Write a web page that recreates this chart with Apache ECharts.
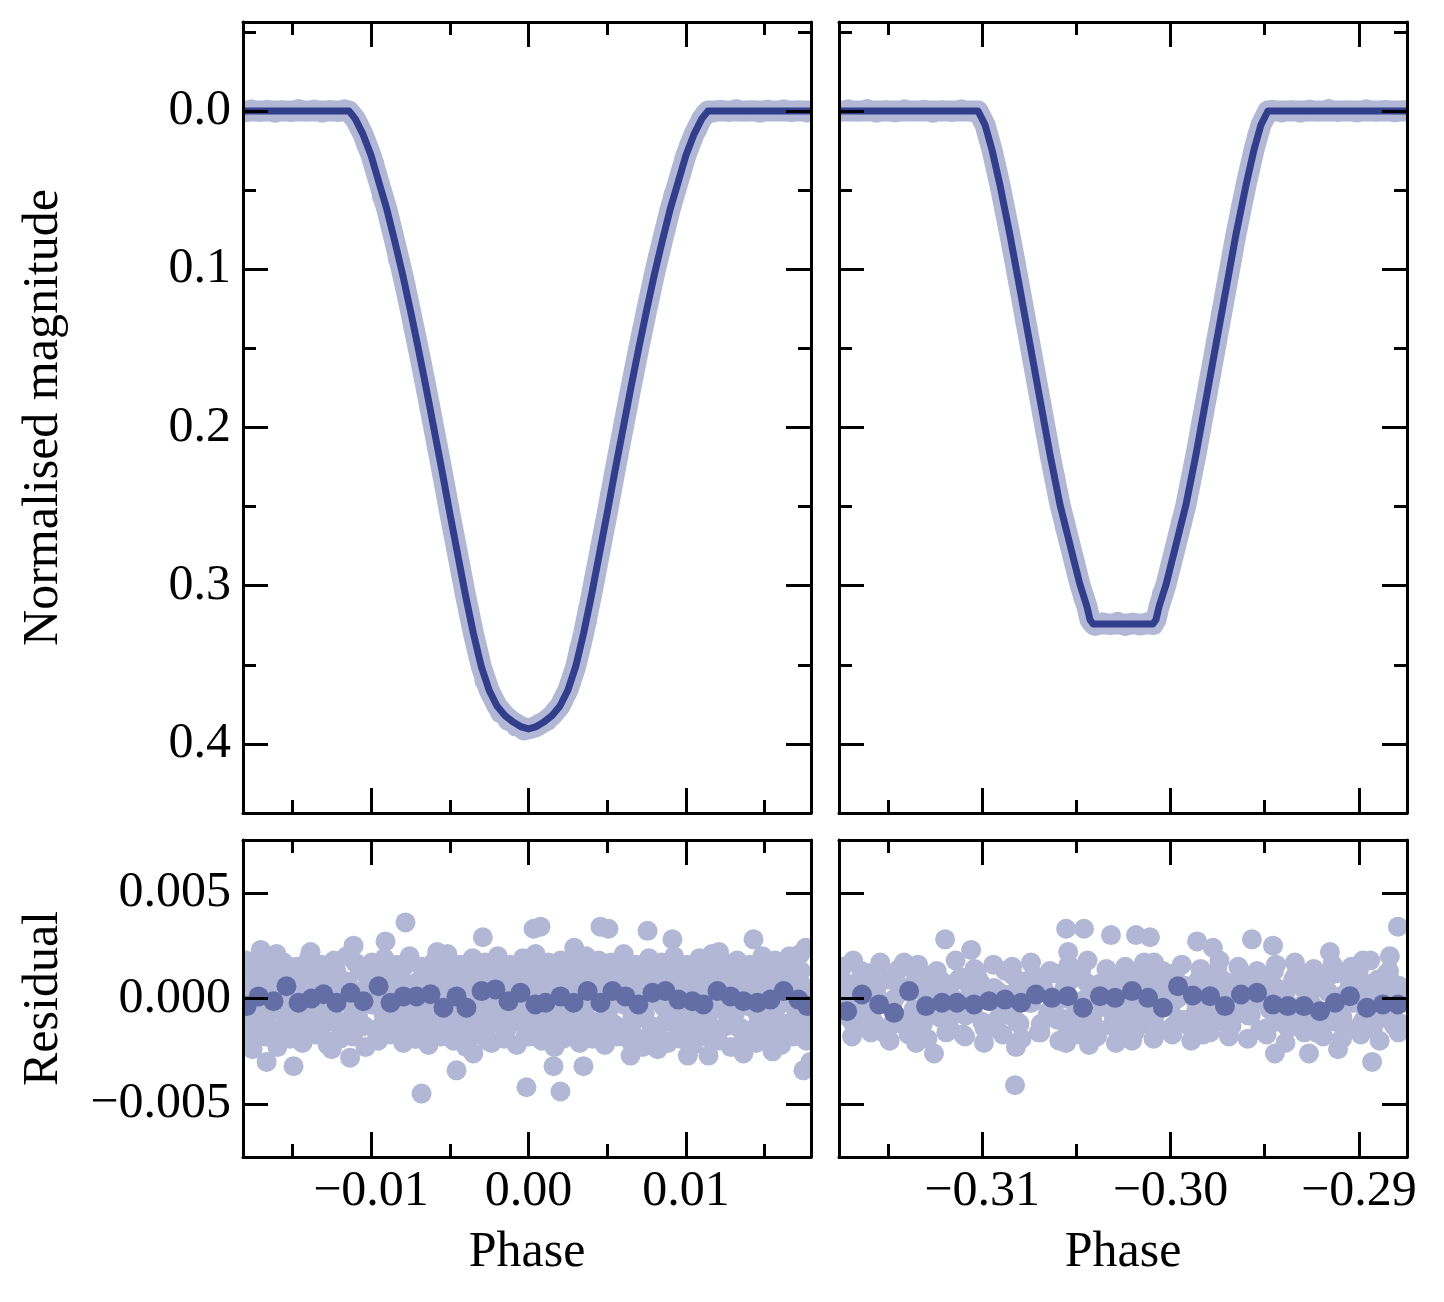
<!DOCTYPE html>
<html>
<head>
<meta charset="utf-8">
<script src="https://cdn.jsdelivr.net/npm/echarts@6/dist/echarts.min.js"></script>
<style>html,body{margin:0;padding:0;background:#fff}#c{width:1444px;height:1302px}</style>
</head>
<body>
<div id="c"></div>
<script>
// ---------------- data ----------------
const modelPrimary = [[-0.0182,0],[-0.0114,0],[-0.0110,0.005],[-0.0105,0.015],[-0.0100,0.028],[-0.0095,0.045],[-0.0090,0.062],[-0.0085,0.082],[-0.0080,0.103],[-0.0075,0.126],[-0.0070,0.150],[-0.0065,0.175],[-0.0060,0.201],[-0.0055,0.227],[-0.0050,0.254],[-0.0045,0.280],[-0.0040,0.306],[-0.0035,0.330],[-0.0030,0.351],[-0.0025,0.366],[-0.0020,0.376],[-0.0015,0.382],[-0.0010,0.386],[-0.0005,0.389],[0,0.3905],[0.0005,0.389],[0.0010,0.386],[0.0015,0.382],[0.0020,0.376],[0.0025,0.366],[0.0030,0.351],[0.0035,0.330],[0.0040,0.306],[0.0045,0.280],[0.0050,0.254],[0.0055,0.227],[0.0060,0.201],[0.0065,0.175],[0.0070,0.150],[0.0075,0.126],[0.0080,0.103],[0.0085,0.082],[0.0090,0.062],[0.0095,0.045],[0.0100,0.028],[0.0105,0.015],[0.0110,0.005],[0.0114,0],[0.0182,0]];

const modelSecondary = [[-0.3180,0],[-0.31021,0],[-0.30984,0.0088],[-0.30947,0.0246],[-0.30905,0.0467],[-0.30852,0.0783],[-0.30798,0.1131],[-0.30745,0.1478],[-0.30692,0.1826],[-0.30639,0.2173],[-0.30586,0.2489],[-0.30533,0.2742],[-0.30480,0.2994],[-0.30443,0.3133],[-0.30427,0.3215],[-0.30411,0.3241],[-0.30093,0.3241],[-0.30077,0.3215],[-0.30061,0.3133],[-0.30024,0.2994],[-0.29971,0.2742],[-0.29918,0.2489],[-0.29865,0.2173],[-0.29812,0.1826],[-0.29759,0.1478],[-0.29706,0.1131],[-0.29653,0.0783],[-0.29599,0.0467],[-0.29557,0.0246],[-0.29520,0.0088],[-0.29483,0],[-0.2870,0]];

const obsPrimary = [[-0.0180,0.0009],[-0.0176,-0.0011],[-0.0171,0.0005],[-0.0166,-0.0008],[-0.0161,0.0012],[-0.0156,-0.0004],[-0.0151,0.0008],[-0.0146,-0.0012],[-0.0141,0.0003],[-0.0136,-0.0009],[-0.0131,0.0011],[-0.0126,-0.0006],[-0.0121,0.0007],[-0.0117,-0.0010],
[-0.0112,0.0035],[-0.0108,0.0080],[-0.0103,0.0215],[-0.0098,0.0330],[-0.0093,0.0545],[-0.0088,0.0690],[-0.0083,0.0935],[-0.0078,0.1105],[-0.0073,0.1370],[-0.0068,0.1595],[-0.0063,0.1870],[-0.0058,0.2120],[-0.0053,0.2370],[-0.0048,0.2655],[-0.0043,0.2895],[-0.0038,0.3175],[-0.0033,0.3380],[-0.0028,0.3600],[-0.0023,0.3700],[-0.0018,0.3805],[-0.0013,0.3855],[-0.0008,0.3890],[-0.0003,0.3915],[0.0002,0.3895],
[0.0007,0.3870],[0.0012,0.3855],[0.0017,0.3790],[0.0022,0.3725],[0.0027,0.3610],[0.0032,0.3405],[0.0037,0.3230],[0.0042,0.2940],[0.0047,0.2710],[0.0052,0.2420],[0.0057,0.2185],[0.0062,0.1895],[0.0067,0.1660],[0.0072,0.1390],[0.0077,0.1180],[0.0082,0.0925],[0.0087,0.0755],[0.0092,0.0530],[0.0097,0.0395],[0.0102,0.0215],[0.0107,0.0120],[0.0112,0.0015],
[0.0117,0.0010],[0.0122,-0.0007],[0.0127,0.0006],[0.0132,-0.0012],[0.0137,0.0004],[0.0142,-0.0005],[0.0147,0.0011],[0.0152,-0.0009],[0.0157,0.0002],[0.0162,-0.0011],[0.0167,0.0008],[0.0172,-0.0004],[0.0177,0.0010],[0.0181,-0.0008]];

const obsSecondary = [[-0.3176,0.0008],[-0.3171,-0.0010],[-0.3166,0.0004],[-0.3161,-0.0012],[-0.3156,0.0011],[-0.3151,-0.0005],[-0.3146,0.0009],[-0.3141,-0.0011],[-0.3136,0.0002],[-0.3131,-0.0008],[-0.3126,0.0012],[-0.3121,-0.0004],[-0.3116,0.0007],[-0.3111,-0.0010],[-0.3106,0.0005],
[-0.31002,0.0040],[-0.30965,0.0180],[-0.30926,0.0345],[-0.30878,0.0630],[-0.30825,0.0945],[-0.30771,0.1320],[-0.30718,0.1640],[-0.30665,0.2010],[-0.30612,0.2320],[-0.30560,0.2630],[-0.30506,0.2860],[-0.30462,0.3080],[-0.30430,0.3200],
[-0.30400,0.3255],[-0.30360,0.3230],[-0.30320,0.3250],[-0.30280,0.3228],[-0.30240,0.3256],[-0.30200,0.3232],[-0.30160,0.3252],[-0.30120,0.3229],[-0.30090,0.3250],
[-0.30070,0.3175],[-0.30045,0.3050],[-0.29998,0.2880],[-0.29945,0.2600],[-0.29892,0.2340],[-0.29839,0.1985],[-0.29786,0.1660],[-0.29733,0.1290],[-0.29680,0.0970],[-0.29627,0.0610],[-0.29578,0.0370],[-0.29540,0.0155],[-0.29500,0.0045],
[-0.2946,-0.0008],[-0.2941,0.0010],[-0.2936,-0.0005],[-0.2931,0.0011],[-0.2926,-0.0009],[-0.2921,0.0004],[-0.2916,-0.0012],[-0.2911,0.0007],[-0.2906,-0.0003],[-0.2901,0.0010],[-0.2896,-0.0010],[-0.2891,0.0005],[-0.2886,-0.0007],[-0.2881,0.0009],[-0.2876,-0.0004]];

const residPrimary = [[-0.01800,0.0012],[-0.01781,-0.0009],[-0.01759,0.0004],[-0.01742,-0.0016],[-0.01719,0.0008],[-0.01701,-0.0003],[-0.01682,0.0015],[-0.01660,-0.0012],[-0.01641,0.0001],[-0.01620,-0.0019],
[-0.01601,0.0010],[-0.01579,-0.0006],[-0.01562,0.0016],[-0.01540,-0.0013],[-0.01521,0.0005],[-0.01499,-0.0009],[-0.01482,0.0011],[-0.01460,-0.0017],[-0.01441,0.0002],[-0.01419,-0.0005],
[-0.01400,0.0014],[-0.01382,-0.0010],[-0.01361,0.0006],[-0.01339,-0.0014],[-0.01322,-0.0001],[-0.01300,0.0010],[-0.01281,-0.0020],[-0.01259,0.0008],[-0.01242,-0.0007],[-0.01220,0.0013],
[-0.01201,-0.0012],[-0.01179,0.0001],[-0.01162,-0.0016],[-0.01140,0.0005],[-0.01121,-0.0004],[-0.01100,0.0017],[-0.01081,-0.0009],[-0.01060,0.0003],[-0.01041,-0.0013],[-0.01019,0.0009],
[-0.01000,-0.0002],[-0.00981,0.0012],[-0.00960,-0.0018],[-0.00941,0.0006],[-0.00919,-0.0008],[-0.00900,0.0014],[-0.00882,-0.0011],[-0.00861,0.0000],[-0.00839,-0.0015],[-0.00822,0.0010],
[-0.00800,-0.0006],[-0.00779,0.0016],[-0.00762,-0.0012],[-0.00740,0.0004],[-0.00719,-0.0019],[-0.00701,0.0008],[-0.00682,-0.0003],[-0.00660,0.0013],[-0.00641,-0.0010],[-0.00620,0.0002],
[-0.00601,-0.0016],[-0.00580,0.0011],[-0.00561,-0.0005],[-0.00540,0.0015],[-0.00522,-0.0013],[-0.00500,0.0006],[-0.00481,-0.0008],[-0.00459,0.0012],[-0.00441,-0.0017],[-0.00420,0.0003],
[-0.00401,-0.0004],[-0.00379,0.0014],[-0.00362,-0.0011],[-0.00340,0.0007],[-0.00321,-0.0014],[-0.00300,0.0001],[-0.00281,0.0010],[-0.00259,-0.0020],[-0.00241,0.0008],[-0.00220,-0.0007],
[-0.00200,0.0016],[-0.00181,-0.0012],[-0.00160,0.0002],[-0.00141,-0.0015],[-0.00119,0.0009],[-0.00100,-0.0003],[-0.00082,0.0013],[-0.00060,-0.0009],[-0.00041,0.0005],[-0.00019,-0.0018],
[0.00000,0.0011],[0.00019,-0.0006],[0.00041,0.0015],[0.00060,-0.0012],[0.00079,0.0003],[0.00101,-0.0016],[0.00120,0.0010],[0.00139,-0.0004],[0.00161,0.0014],[0.00180,-0.0010],
[0.00199,0.0006],[0.00221,-0.0019],[0.00240,0.0009],[0.00259,-0.0007],[0.00281,0.0012],[0.00300,-0.0013],[0.00319,0.0001],[0.00341,-0.0015],[0.00360,0.0007],[0.00379,-0.0002],
[0.00401,0.0016],[0.00420,-0.0011],[0.00439,0.0004],[0.00461,-0.0017],[0.00480,0.0010],[0.00499,-0.0005],[0.00521,0.0013],[0.00540,-0.0012],[0.00559,0.0002],[0.00581,-0.0014],
[0.00600,0.0008],[0.00619,-0.0003],[0.00641,0.0015],[0.00660,-0.0009],[0.00679,0.0005],[0.00701,-0.0019],[0.00720,0.0011],[0.00739,-0.0007],[0.00761,0.0012],[0.00780,-0.0013],
[0.00799,0.0000],[0.00821,-0.0016],[0.00840,0.0009],[0.00859,-0.0004],[0.00881,0.0014],[0.00900,-0.0010],[0.00919,0.0006],[0.00941,-0.0018],[0.00960,0.0008],[0.00979,-0.0006],
[0.01001,0.0013],[0.01020,-0.0012],[0.01039,0.0003],[0.01061,-0.0015],[0.01080,0.0010],[0.01099,-0.0002],[0.01121,0.0016],[0.01140,-0.0011],[0.01159,0.0004],[0.01181,-0.0017],
[0.01200,0.0009],[0.01219,-0.0005],[0.01241,0.0012],[0.01260,-0.0013],[0.01279,0.0002],[0.01301,-0.0009],[0.01320,0.0015],[0.01339,-0.0014],[0.01361,0.0006],[0.01380,-0.0003],
[0.01399,0.0011],[0.01421,-0.0019],[0.01440,0.0007],[0.01459,-0.0008],[0.01481,0.0013],[0.01500,-0.0011],[0.01519,0.0001],[0.01541,-0.0015],[0.01560,0.0010],[0.01579,-0.0004],
[0.01601,0.0014],[0.01620,-0.0012],[0.01639,0.0005],[0.01661,-0.0017],[0.01680,0.0009],[0.01699,-0.0006],[0.01721,0.0012],[0.01740,-0.0010],[0.01759,0.0003],[0.01781,-0.0016],
[-0.00781,0.0036],[-0.00290,0.0029],[-0.00908,0.0027],[-0.01111,0.0025],[-0.01384,0.0022],[0.00032,0.0033],[-0.00679,-0.0045],[-0.01492,-0.0032],[-0.01663,-0.0030],[-0.00457,-0.0034],
[-0.00013,-0.0042],[-0.01133,-0.0028],[-0.01752,-0.0024],[0.00508,0.0033],[0.00756,0.0032],[0.01429,0.0028],[0.00076,0.0034],[0.00203,-0.0044],[0.00349,-0.0032],[0.00159,-0.0032],
[0.01012,-0.0027],[0.01143,-0.0027],[0.01365,-0.0026],[0.01746,-0.0034],[0.00648,-0.0027],[0.00457,0.0034],[0.00914,0.0028],[0.01657,0.0020],[-0.01600,0.0021],[-0.01250,-0.0024],
[-0.00580,0.0022],[-0.00350,-0.0026],[0.00290,0.0024],[0.00820,-0.0024],[0.01210,0.0022],[0.01550,-0.0025],[0.01760,0.0024],[-0.01700,0.0023],[0.01790,-0.0030]];

const residPrimaryB = [[-0.01790,-0.0004],[-0.01771,0.0009],[-0.01750,-0.0013],[-0.01729,0.0002],[-0.01710,-0.0007],[-0.01691,0.0013],[-0.01670,-0.0010],[-0.01649,0.0005],[-0.01630,-0.0002],[-0.01611,0.0011],[-0.01590,-0.0015],[-0.01569,0.0000],[-0.01550,0.0007],[-0.01531,-0.0011],[-0.01510,0.0003],[-0.01489,-0.0006],[-0.01470,0.0012],[-0.01451,-0.0014],[-0.01430,0.0006],[-0.01409,-0.0001],
[-0.01390,-0.0005],[-0.01371,0.0010],[-0.01350,-0.0012],[-0.01329,0.0001],[-0.01310,-0.0008],[-0.01291,0.0012],[-0.01270,-0.0011],[-0.01249,0.0004],[-0.01230,-0.0003],[-0.01211,0.0010],[-0.01190,-0.0016],[-0.01169,0.0001],[-0.01150,0.0008],[-0.01131,-0.0010],[-0.01110,0.0002],[-0.01089,-0.0007],[-0.01070,0.0013],[-0.01051,-0.0013],[-0.01030,0.0005],[-0.01009,-0.0002],
[-0.00990,-0.0003],[-0.00971,0.0008],[-0.00950,-0.0014],[-0.00929,0.0003],[-0.00910,-0.0006],[-0.00891,0.0014],[-0.00870,-0.0009],[-0.00849,0.0006],[-0.00830,-0.0001],[-0.00811,0.0012],[-0.00790,-0.0014],[-0.00769,-0.0001],[-0.00750,0.0006],[-0.00731,-0.0012],[-0.00710,0.0004],[-0.00689,-0.0005],[-0.00670,0.0011],[-0.00651,-0.0015],[-0.00630,0.0007],[-0.00609,0.0000],
[-0.00590,-0.0006],[-0.00571,0.0009],[-0.00550,-0.0012],[-0.00529,0.0002],[-0.00510,-0.0008],[-0.00491,0.0013],[-0.00470,-0.0010],[-0.00449,0.0004],[-0.00430,-0.0003],[-0.00411,0.0011],[-0.00390,-0.0016],[-0.00369,0.0000],[-0.00350,0.0008],[-0.00331,-0.0011],[-0.00310,0.0002],[-0.00289,-0.0006],[-0.00270,0.0012],[-0.00251,-0.0013],[-0.00230,0.0005],[-0.00209,-0.0002],
[-0.00190,-0.0004],[-0.00171,0.0010],[-0.00150,-0.0013],[-0.00129,0.0001],[-0.00110,-0.0007],[-0.00091,0.0012],[-0.00070,-0.0011],[-0.00049,0.0006],[-0.00030,-0.0002],[-0.00011,0.0010],[0.00010,-0.0015],[0.00031,0.0001],[0.00050,0.0007],[0.00069,-0.0010],[0.00090,0.0003],[0.00111,-0.0007],[0.00130,0.0013],[0.00149,-0.0014],[0.00170,0.0006],[0.00191,-0.0001],
[0.00210,-0.0005],[0.00229,0.0008],[0.00250,-0.0012],[0.00271,0.0003],[0.00290,-0.0006],[0.00309,0.0014],[0.00330,-0.0010],[0.00351,0.0005],[0.00370,-0.0003],[0.00389,0.0011],[0.00410,-0.0014],[0.00431,0.0000],[0.00450,0.0006],[0.00469,-0.0012],[0.00490,0.0004],[0.00511,-0.0005],[0.00530,0.0012],[0.00549,-0.0015],[0.00570,0.0007],[0.00591,-0.0002],
[0.00610,-0.0003],[0.00629,0.0009],[0.00650,-0.0014],[0.00671,0.0002],[0.00690,-0.0008],[0.00709,0.0012],[0.00730,-0.0009],[0.00751,0.0004],[0.00770,-0.0001],[0.00789,0.0010],[0.00810,-0.0016],[0.00831,0.0001],[0.00850,0.0008],[0.00869,-0.0011],[0.00890,0.0003],[0.00911,-0.0006],[0.00930,0.0011],[0.00949,-0.0013],[0.00970,0.0005],[0.00991,0.0000],
[0.01010,-0.0006],[0.01029,0.0010],[0.01050,-0.0012],[0.01071,0.0001],[0.01090,-0.0007],[0.01109,0.0013],[0.01130,-0.0011],[0.01151,0.0005],[0.01170,-0.0002],[0.01189,0.0012],[0.01210,-0.0015],[0.01231,-0.0001],[0.01250,0.0007],[0.01269,-0.0010],[0.01290,0.0002],[0.01311,-0.0007],[0.01330,0.0012],[0.01349,-0.0014],[0.01370,0.0006],[0.01391,-0.0001],
[0.01410,-0.0004],[0.01429,0.0009],[0.01450,-0.0013],[0.01471,0.0003],[0.01490,-0.0006],[0.01509,0.0013],[0.01530,-0.0010],[0.01551,0.0006],[0.01570,-0.0003],[0.01589,0.0011],[0.01610,-0.0015],[0.01631,0.0000],[0.01650,0.0006],[0.01669,-0.0012],[0.01690,0.0004],[0.01711,-0.0005],[0.01730,0.0013],[0.01749,-0.0013],[0.01770,0.0005],[0.01791,-0.0002]];

const residPrimaryC = [[-0.01795,0.0018],[-0.01755,-0.0021],[-0.01715,0.0016],[-0.01675,-0.0018],[-0.01635,0.0020],[-0.01595,-0.0023],[-0.01555,0.0017],[-0.01515,-0.0019],[-0.01475,0.0015],[-0.01435,-0.0021],
[-0.01395,0.0019],[-0.01355,-0.0017],[-0.01315,0.0016],[-0.01275,-0.0022],[-0.01235,0.0018],[-0.01195,-0.0019],[-0.01155,0.0020],[-0.01115,-0.0018],[-0.01075,0.0015],[-0.01035,-0.0023],
[-0.00995,0.0017],[-0.00955,-0.0020],[-0.00915,0.0019],[-0.00875,-0.0017],[-0.00835,0.0016],[-0.00795,-0.0021],[-0.00755,0.0020],[-0.00715,-0.0019],[-0.00675,0.0015],[-0.00635,-0.0022],
[-0.00595,0.0018],[-0.00555,-0.0018],[-0.00515,0.0021],[-0.00475,-0.0020],[-0.00435,0.0016],[-0.00395,-0.0023],[-0.00355,0.0019],[-0.00315,-0.0017],[-0.00275,0.0017],[-0.00235,-0.0021],
[-0.00195,0.0020],[-0.00155,-0.0019],[-0.00115,0.0016],[-0.00075,-0.0022],[-0.00035,0.0019],[0.00005,-0.0018],[0.00045,0.0021],[0.00085,-0.0020],[0.00125,0.0017],[0.00165,-0.0023],
[0.00205,0.0018],[0.00245,-0.0017],[0.00285,0.0016],[0.00325,-0.0021],[0.00365,0.0020],[0.00405,-0.0019],[0.00445,0.0018],[0.00485,-0.0022],[0.00525,0.0017],[0.00565,-0.0018],
[0.00605,0.0021],[0.00645,-0.0020],[0.00685,0.0016],[0.00725,-0.0023],[0.00765,0.0019],[0.00805,-0.0017],[0.00845,0.0017],[0.00885,-0.0021],[0.00925,0.0020],[0.00965,-0.0019],
[0.01005,0.0016],[0.01045,-0.0022],[0.01085,0.0019],[0.01125,-0.0018],[0.01165,0.0021],[0.01205,-0.0020],[0.01245,0.0017],[0.01285,-0.0023],[0.01325,0.0018],[0.01365,-0.0017],
[0.01405,0.0016],[0.01445,-0.0021],[0.01485,0.0020],[0.01525,-0.0019],[0.01565,0.0018],[0.01605,-0.0022],[0.01645,0.0017],[0.01685,-0.0018],[0.01725,0.0021],[0.01765,-0.0020]];

const residSecondary = [[-0.31750,0.0010],[-0.31724,-0.0008],[-0.31701,0.0003],[-0.31674,-0.0014],[-0.31650,0.0007],[-0.31626,-0.0003],[-0.31599,0.0012],[-0.31575,-0.0011],[-0.31551,0.0000],[-0.31524,-0.0016],
[-0.31500,0.0009],[-0.31476,-0.0005],[-0.31449,0.0013],[-0.31425,-0.0012],[-0.31401,0.0004],[-0.31374,-0.0008],[-0.31350,0.0010],[-0.31326,-0.0015],[-0.31299,0.0002],[-0.31275,-0.0004],
[-0.31251,0.0012],[-0.31224,-0.0009],[-0.31200,0.0005],[-0.31176,-0.0013],[-0.31149,-0.0001],[-0.31125,0.0009],[-0.31101,-0.0017],[-0.31074,0.0007],[-0.31050,-0.0006],[-0.31026,0.0011],
[-0.30999,-0.0011],[-0.30975,0.0001],[-0.30951,-0.0014],[-0.30924,0.0004],[-0.30900,-0.0003],[-0.30876,0.0013],[-0.30849,-0.0008],[-0.30825,0.0003],[-0.30801,-0.0012],[-0.30774,0.0008],
[-0.30750,-0.0002],[-0.30726,0.0011],[-0.30699,-0.0016],[-0.30675,0.0005],[-0.30651,-0.0007],[-0.30624,0.0012],[-0.30600,-0.0010],[-0.30576,0.0000],[-0.30549,-0.0013],[-0.30525,0.0009],
[-0.30501,-0.0005],[-0.30474,0.0013],[-0.30450,-0.0011],[-0.30426,0.0003],[-0.30399,-0.0016],[-0.30375,0.0007],[-0.30351,-0.0003],[-0.30324,0.0011],[-0.30300,-0.0009],[-0.30276,0.0002],
[-0.30249,-0.0014],[-0.30225,0.0010],[-0.30201,-0.0004],[-0.30174,0.0012],[-0.30150,-0.0012],[-0.30126,0.0005],[-0.30099,-0.0007],[-0.30075,0.0010],[-0.30051,-0.0015],[-0.30024,0.0003],
[-0.30000,-0.0004],[-0.29976,0.0012],[-0.29949,-0.0010],[-0.29925,0.0006],[-0.29901,-0.0013],[-0.29874,0.0001],[-0.29850,0.0009],[-0.29826,-0.0017],[-0.29799,0.0007],[-0.29775,-0.0006],
[-0.29751,0.0013],[-0.29724,-0.0011],[-0.29700,0.0002],[-0.29676,-0.0013],[-0.29649,0.0008],[-0.29625,-0.0003],[-0.29601,0.0011],[-0.29574,-0.0008],[-0.29550,0.0004],[-0.29526,-0.0015],
[-0.29499,0.0010],[-0.29475,-0.0005],[-0.29451,0.0013],[-0.29424,-0.0011],[-0.29400,0.0003],[-0.29376,-0.0014],[-0.29349,0.0009],[-0.29325,-0.0004],[-0.29301,0.0012],[-0.29274,-0.0009],
[-0.29250,0.0005],[-0.29226,-0.0016],[-0.29199,0.0008],[-0.29175,-0.0006],[-0.29151,0.0011],[-0.29124,-0.0011],[-0.29100,0.0001],[-0.29076,-0.0013],[-0.29049,0.0006],[-0.29025,-0.0002],
[-0.29001,0.0013],[-0.28974,-0.0010],[-0.28950,0.0004],[-0.28926,-0.0014],[-0.28899,0.0009],[-0.28875,-0.0004],[-0.28851,0.0012],[-0.28824,-0.0011],[-0.28800,0.0003],[-0.28776,-0.0012],
[-0.31196,0.0028],[-0.31684,0.0018],[-0.31058,0.0023],[-0.31414,0.0017],[-0.30554,0.0033],[-0.30459,0.0033],[-0.30316,0.0030],[-0.30543,0.0022],[-0.30183,0.0030],[-0.30825,-0.0041],
[-0.31255,-0.0026],[-0.31350,-0.0021],[-0.30820,-0.0023],[-0.30554,-0.0021],[-0.30432,-0.0022],[-0.30204,-0.0020],[-0.28793,0.0034],[-0.29859,0.0027],[-0.29775,0.0024],[-0.29568,0.0028],
[-0.29456,0.0025],[-0.29154,0.0022],[-0.28979,0.0018],[-0.28836,0.0020],[-0.28930,-0.0030],[-0.29265,-0.0026],[-0.29446,-0.0026],[-0.29111,-0.0024],[-0.30087,0.0017],[-0.30109,0.0029]];

const residSecondaryB = [[-0.31738,-0.0003],[-0.31712,0.0007],[-0.31688,-0.0011],[-0.31663,0.0002],[-0.31637,-0.0006],[-0.31613,0.0011],[-0.31588,-0.0009],[-0.31562,0.0004],[-0.31538,-0.0001],[-0.31513,0.0009],[-0.31487,-0.0013],[-0.31463,0.0000],[-0.31438,0.0006],[-0.31412,-0.0010],[-0.31388,0.0003],[-0.31363,-0.0005],[-0.31337,0.0010],[-0.31313,-0.0012],[-0.31288,0.0005],[-0.31262,-0.0002],
[-0.31238,-0.0004],[-0.31212,0.0008],[-0.31188,-0.0010],[-0.31163,0.0001],[-0.31137,-0.0007],[-0.31113,0.0010],[-0.31088,-0.0008],[-0.31062,0.0003],[-0.31038,-0.0002],[-0.31013,0.0008],[-0.30987,-0.0014],[-0.30963,0.0001],[-0.30938,0.0005],[-0.30912,-0.0009],[-0.30888,0.0002],[-0.30863,-0.0006],[-0.30837,0.0011],[-0.30813,-0.0011],[-0.30788,0.0004],[-0.30762,-0.0001],
[-0.30738,-0.0002],[-0.30712,0.0006],[-0.30688,-0.0012],[-0.30663,0.0003],[-0.30637,-0.0005],[-0.30613,0.0012],[-0.30588,-0.0009],[-0.30562,0.0005],[-0.30538,0.0000],[-0.30513,0.0010],[-0.30487,-0.0012],[-0.30463,-0.0001],[-0.30438,0.0007],[-0.30412,-0.0011],[-0.30388,0.0004],[-0.30363,-0.0004],[-0.30337,0.0009],[-0.30313,-0.0013],[-0.30288,0.0006],[-0.30262,-0.0003],
[-0.30238,-0.0005],[-0.30212,0.0007],[-0.30188,-0.0010],[-0.30163,0.0002],[-0.30137,-0.0006],[-0.30113,0.0011],[-0.30088,-0.0010],[-0.30062,0.0004],[-0.30038,-0.0002],[-0.30013,0.0009],[-0.29987,-0.0013],[-0.29963,0.0000],[-0.29938,0.0006],[-0.29912,-0.0010],[-0.29888,0.0001],[-0.29863,-0.0005],[-0.29837,0.0010],[-0.29813,-0.0012],[-0.29788,0.0005],[-0.29762,-0.0002],
[-0.29738,-0.0003],[-0.29712,0.0008],[-0.29688,-0.0011],[-0.29663,0.0001],[-0.29637,-0.0007],[-0.29613,0.0010],[-0.29588,-0.0008],[-0.29562,0.0005],[-0.29538,-0.0001],[-0.29513,0.0008],[-0.29487,-0.0014],[-0.29463,0.0001],[-0.29438,0.0005],[-0.29412,-0.0009],[-0.29388,0.0003],[-0.29363,-0.0006],[-0.29337,0.0011],[-0.29313,-0.0011],[-0.29288,0.0004],[-0.29262,0.0000],
[-0.29238,-0.0004],[-0.29212,0.0006],[-0.29188,-0.0012],[-0.29163,0.0003],[-0.29137,-0.0005],[-0.29113,0.0012],[-0.29088,-0.0009],[-0.29062,0.0003],[-0.29038,-0.0002],[-0.29013,0.0010],[-0.28987,-0.0012],[-0.28963,-0.0001],[-0.28938,0.0007],[-0.28912,-0.0011],[-0.28888,0.0002],[-0.28863,-0.0004],[-0.28837,0.0009],[-0.28813,-0.0013],[-0.28788,0.0006],[-0.28762,-0.0002]];

const residSecondaryC = [[-0.31740,0.0015],[-0.31690,-0.0018],[-0.31640,0.0013],[-0.31590,-0.0016],[-0.31540,0.0017],[-0.31490,-0.0020],[-0.31440,0.0014],[-0.31390,-0.0017],[-0.31340,0.0016],[-0.31290,-0.0019],
[-0.31240,0.0013],[-0.31190,-0.0016],[-0.31140,0.0018],[-0.31090,-0.0018],[-0.31040,0.0014],[-0.30990,-0.0021],[-0.30940,0.0016],[-0.30890,-0.0017],[-0.30840,0.0015],[-0.30790,-0.0019],
[-0.30740,0.0017],[-0.30690,-0.0016],[-0.30640,0.0013],[-0.30590,-0.0020],[-0.30540,0.0016],[-0.30490,-0.0017],[-0.30440,0.0018],[-0.30390,-0.0018],[-0.30340,0.0014],[-0.30290,-0.0021],
[-0.30240,0.0015],[-0.30190,-0.0016],[-0.30140,0.0017],[-0.30090,-0.0019],[-0.30040,0.0013],[-0.29990,-0.0017],[-0.29940,0.0016],[-0.29890,-0.0020],[-0.29840,0.0014],[-0.29790,-0.0016],
[-0.29740,0.0018],[-0.29690,-0.0018],[-0.29640,0.0015],[-0.29590,-0.0019],[-0.29540,0.0013],[-0.29490,-0.0017],[-0.29440,0.0016],[-0.29390,-0.0021],[-0.29340,0.0017],[-0.29290,-0.0016],
[-0.29240,0.0014],[-0.29190,-0.0018],[-0.29140,0.0016],[-0.29090,-0.0019],[-0.29040,0.0015],[-0.28990,-0.0017],[-0.28940,0.0018],[-0.28890,-0.0020],[-0.28840,0.0013],[-0.28790,-0.0016]];

const binnedPrimary = [[-0.01790,-0.00036],[-0.01714,0.00010],[-0.01619,-0.00013],[-0.01537,0.00058],[-0.01460,-0.00020],[-0.01378,0.00000],[-0.01302,0.00020],[-0.01219,-0.00020],[-0.01130,0.00027],[-0.01048,-0.00013],[-0.00952,0.00058],[-0.00876,-0.00020],[-0.00794,0.00010],[-0.00711,0.00010],[-0.00622,0.00020],[-0.00540,-0.00044],[-0.00457,0.00010],[-0.00394,-0.00044],[-0.00298,0.00035],[-0.00210,0.00043],[-0.00127,-0.00013],[-0.00051,0.00027],[0.00044,-0.00028],[0.00108,-0.00020],[0.00203,0.00010],[0.00286,-0.00020],[0.00375,0.00035],[0.00457,-0.00020],[0.00533,0.00035],[0.00616,0.00010],[0.00698,-0.00028],[0.00787,0.00027],[0.00870,0.00035],[0.00952,-0.00005],[0.01041,-0.00013],[0.01111,-0.00028],[0.01200,0.00035],[0.01283,0.00010],[0.01365,-0.00013],[0.01454,-0.00020],[0.01537,-0.00005],[0.01620,0.00035],[0.01714,-0.00005],[0.01771,-0.00036]];

const binnedSecondary = [[-0.31716,-0.00060],[-0.31637,0.00019],[-0.31546,-0.00028],[-0.31467,-0.00068],[-0.31387,0.00035],[-0.31297,-0.00036],[-0.31212,-0.00020],[-0.31133,-0.00020],[-0.31042,-0.00028],[-0.30963,-0.00013],[-0.30878,-0.00005],[-0.30793,-0.00020],[-0.30714,0.00019],[-0.30629,0.00003],[-0.30544,0.00011],[-0.30464,-0.00044],[-0.30374,0.00011],[-0.30294,0.00003],[-0.30204,0.00035],[-0.30119,0.00003],[-0.30040,-0.00044],[-0.29960,0.00058],[-0.29881,0.00014],[-0.29790,0.00011],[-0.29711,-0.00036],[-0.29626,0.00019],[-0.29541,0.00027],[-0.29456,-0.00028],[-0.29377,-0.00036],[-0.29292,-0.00036],[-0.29207,-0.00060],[-0.29127,-0.00020],[-0.29048,0.00011],[-0.28958,-0.00044],[-0.28873,-0.00028],[-0.28793,-0.00028]];

// tick values
const xMajorPrimary = [-0.01, 0, 0.01];
const xMinorPrimary = [-0.015, -0.005, 0.005, 0.015];
const xMajorSecondary = [-0.31, -0.30, -0.29];
const xMinorSecondary = [-0.315, -0.305, -0.295];
const yMajorMag = [0, 0.1, 0.2, 0.3, 0.4];
const yMinorMag = [-0.05, 0.05, 0.15, 0.25, 0.35];
const yMajorRes = [-0.005, 0, 0.005];

// ---------------- chart ----------------
const FONT = '"Liberation Serif", "Times New Roman", serif';
const LIGHT = '#b1b7d5', DARK = '#313e8b', BIN = '#636da6';
const fmt = d => v => (v < -1e-12 ? '\u2212' : '') + Math.abs(v).toFixed(d);
const tickStyle = {color:'#000', width:3};
const lblStyle = {fontSize:50, fontFamily:FONT, color:'#000'};

const xAxes = [], yAxes = [];
function addX(g, min, max, major, minor, labels, name) {
  const idx = xAxes.length;
  const common = {gridIndex:g, type:'value', min, max, z:10, splitLine:{show:false}};
  ['bottom','top'].forEach(pos => {
    xAxes.push(Object.assign({}, common, {
      position:pos,
      axisLine:{show:true, onZero:false, lineStyle:tickStyle},
      axisTick:{show:true, inside:true, length:25, customValues:major, lineStyle:tickStyle},
      axisLabel:Object.assign({show: pos==='bottom' && labels, customValues:major, formatter:fmt(2), margin:10}, lblStyle),
      name: (pos==='bottom' && name) ? name : '',
      nameLocation:'middle', nameGap:71, nameMoveOverlap:false,
      nameTextStyle:lblStyle
    }));
    xAxes.push(Object.assign({}, common, {
      position:pos,
      axisLine:{show:false, onZero:false},
      axisTick:{show:true, inside:true, length:13, customValues:minor, lineStyle:tickStyle},
      axisLabel:{show:false}
    }));
  });
  return idx;
}
function addY(g, min, max, inverse, major, minor, labels, dec, name) {
  const idx = yAxes.length;
  const common = {gridIndex:g, type:'value', min, max, inverse, z:10, splitLine:{show:false}};
  ['left','right'].forEach(pos => {
    yAxes.push(Object.assign({}, common, {
      position:pos,
      axisLine:{show:true, onZero:false, lineStyle:tickStyle},
      axisTick:{show:true, inside:true, length:25, customValues:major, lineStyle:tickStyle},
      axisLabel:Object.assign({show: pos==='left' && labels, customValues:major, formatter:fmt(dec), margin:12}, lblStyle),
      name: (pos==='left' && name) ? name : '',
      nameLocation:'middle', nameGap:174, nameRotate:90, nameMoveOverlap:false,
      nameTextStyle:lblStyle
    }));
    if (minor) {
      yAxes.push(Object.assign({}, common, {
        position:pos,
        axisLine:{show:false, onZero:false},
        axisTick:{show:true, inside:true, length:13, customValues:minor, lineStyle:tickStyle},
        axisLabel:{show:false}
      }));
    }
  });
  return idx;
}

const PX = [-0.01813, 0.01794], SX = [-0.31759, -0.28745];
const MY = [-0.0562, 0.4436], RY = [-0.0075, 0.0075];

const x0 = addX(0, PX[0], PX[1], xMajorPrimary, xMinorPrimary, false, '');
const x1 = addX(1, SX[0], SX[1], xMajorSecondary, xMinorSecondary, false, '');
const x2 = addX(2, PX[0], PX[1], xMajorPrimary, xMinorPrimary, true, 'Phase');
const x3 = addX(3, SX[0], SX[1], xMajorSecondary, xMinorSecondary, true, 'Phase');
const y0 = addY(0, MY[0], MY[1], true, yMajorMag, yMinorMag, true, 1, 'Normalised magnitude');
const y1 = addY(1, MY[0], MY[1], true, yMajorMag, yMinorMag, false, 1, '');
const y2 = addY(2, RY[0], RY[1], false, yMajorRes, null, true, 3, 'Residual');
const y3 = addY(3, RY[0], RY[1], false, yMajorRes, null, false, 3, '');

function band(xi, yi, data) {
  return {type:'line', xAxisIndex:xi, yAxisIndex:yi, data, symbol:'none', silent:true, z:1,
    lineStyle:{color:LIGHT, width:21, cap:'round', join:'round'}};
}
function curve(xi, yi, data) {
  return {type:'line', xAxisIndex:xi, yAxisIndex:yi, data, symbol:'none', silent:true, z:4,
    lineStyle:{color:DARK, width:7, cap:'round', join:'round'}};
}
function dots(xi, yi, data, color, z) {
  return {type:'scatter', xAxisIndex:xi, yAxisIndex:yi, data, symbol:'circle', symbolSize:20, silent:true, z,
    itemStyle:{color, opacity:1}};
}

// white masks outside the plotting areas (emulate clipping of marks at the frames)
const W = '#fff';
const masks = [
  {type:'rect', shape:{x:0, y:0, width:243, height:1302}},
  {type:'rect', shape:{x:811, y:0, width:28, height:1302}},
  {type:'rect', shape:{x:1407, y:0, width:37, height:1302}},
  {type:'rect', shape:{x:0, y:0, width:1444, height:22}},
  {type:'rect', shape:{x:0, y:813, width:1444, height:27}},
  {type:'rect', shape:{x:0, y:1157, width:1444, height:145}}
].map(m => Object.assign(m, {z:5, silent:true, style:{fill:W}}));

const option = {
  animation:false,
  backgroundColor:'#fff',
  textStyle:{fontFamily:FONT},
  grid:[
    {left:243, top:22, width:568, height:791, outerBoundsMode:'none'},
    {left:839, top:22, width:568, height:791, outerBoundsMode:'none'},
    {left:243, top:840, width:568, height:317, outerBoundsMode:'none'},
    {left:839, top:840, width:568, height:317, outerBoundsMode:'none'}
  ],
  graphic:{elements:masks},
  xAxis:xAxes,
  yAxis:yAxes,
  series:[
    band(x0, y0, modelPrimary), dots(x0, y0, obsPrimary, LIGHT, 2), curve(x0, y0, modelPrimary),
    band(x1, y1, modelSecondary), dots(x1, y1, obsSecondary, LIGHT, 2), curve(x1, y1, modelSecondary),
    dots(x2, y2, residPrimary.concat(residPrimaryB, residPrimaryC), LIGHT, 2), dots(x2, y2, binnedPrimary, BIN, 3),
    dots(x3, y3, residSecondary.concat(residSecondaryB, residSecondaryC), LIGHT, 2), dots(x3, y3, binnedSecondary, BIN, 3)
  ]
};
const chart = echarts.init(document.getElementById('c'), null, {renderer:'canvas'});
chart.setOption(option);
</script>
</body>
</html>
